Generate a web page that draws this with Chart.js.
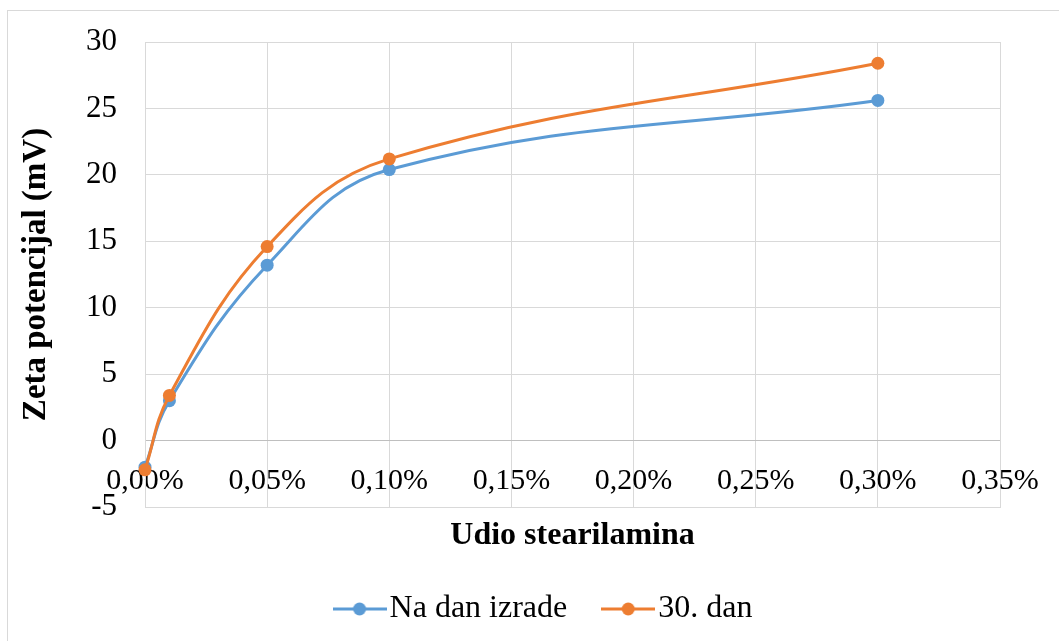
<!DOCTYPE html>
<html>
<head>
<meta charset="utf-8">
<script src="https://cdn.jsdelivr.net/npm/chart.js@4.4.0/dist/chart.umd.min.js"></script>
<style>
  html, body { margin: 0; padding: 0; background: #fff; overflow: hidden; width: 1059px; height: 641px; }
  #frame { position: absolute; left: 7px; top: 10px; width: 1079px; height: 630px;
           border-left: 1px solid #d9d9d9; border-top: 1px solid #d9d9d9; }
  #chart { display: block; }
</style>
</head>
<body>
<div id="frame"><canvas id="chart" width="1079" height="630"></canvas></div>
<script>
// share of stearylamine (%)
var udio = [0, 0.01, 0.05, 0.10, 0.30];
// zeta potential (mV)
var naDanIzrade = [-2.0, 3.0, 13.2, 20.4, 25.6];
var dan30 = [-2.2, 3.4, 14.6, 21.2, 28.4];

var seriesNames = ["Na dan izrade", "30. dan"];
var seriesColors = ["#5b9bd5", "#ed7d31"];

var serif = "'Liberation Serif', 'Times New Roman', serif";

// legend marker: short line with a dot, like excel
function markerImage(color) {
  var c = document.createElement("canvas");
  c.width = 54;
  c.height = 16;
  var g = c.getContext("2d");
  g.strokeStyle = color;
  g.lineWidth = 3;
  g.beginPath();
  g.moveTo(0, 8);
  g.lineTo(54, 8);
  g.stroke();
  g.fillStyle = color;
  g.beginPath();
  g.arc(27, 8, 6.5, 0, Math.PI * 2);
  g.fill();
  return c;
}

function toPoints(xs, ys) {
  var pts = [];
  for (var i = 0; i < xs.length; i++) {
    pts.push({ x: xs[i], y: ys[i] });
  }
  return pts;
}

var allSeries = [naDanIzrade, dan30];
var datasets = [];
for (var i = 0; i < allSeries.length; i++) {
  datasets.push({
    label: seriesNames[i],
    data: toPoints(udio, allSeries[i]),
    borderColor: seriesColors[i],
    backgroundColor: seriesColors[i],
    borderWidth: 3,
    pointRadius: 6.5,
    pointHoverRadius: 6.5,
    pointBorderWidth: 0,
    tension: 0.4,
    clip: false,
    // later series on top, as in excel
    order: allSeries.length - i,
    yAxisID: "y"
  });
}

new Chart(document.getElementById("chart"), {
  type: "line",
  data: { datasets: datasets },
  options: {
    responsive: false,
    animation: false,
    events: [],
    layout: { padding: { left: 4, right: 1, top: 31, bottom: 6 } },
    scales: {
      x: {
        type: "linear",
        min: 0,
        max: 0.35,
        ticks: {
          stepSize: 0.05,
          mirror: true,
          padding: 8,
          color: "#000",
          font: { family: serif, size: 30 },
          callback: function (v) { return v.toFixed(2).replace(".", ",") + "%"; }
        },
        grid: { color: "#d9d9d9", lineWidth: 1, drawTicks: false },
        border: { color: "#d9d9d9" },
        title: {
          display: true,
          text: "Udio stearilamina",
          color: "#000",
          font: { family: serif, size: 32, weight: "bold" },
          padding: { top: 0, bottom: -9 }
        },
        afterFit: function (s) {
          s.height = 39;
          s.paddingLeft = 0;
          s.paddingRight = 0;
        }
      },
      y: {
        min: -5,
        max: 30,
        ticks: {
          stepSize: 5,
          padding: 28,
          color: "#000",
          font: { family: serif, size: 31 }
        },
        grid: {
          color: function (ctx) { return ctx.tick && ctx.tick.value === 0 ? "#bfbfbf" : "#d9d9d9"; },
          lineWidth: 1,
          drawTicks: false
        },
        border: { color: "#d9d9d9" },
        title: {
          display: true,
          text: "Zeta potencijal (mV)",
          color: "#000",
          font: { family: serif, size: 33, weight: "bold" },
          padding: { top: 5, bottom: 0 }
        },
        afterFit: function (s) {
          s.width = 133;
          s.paddingTop = 0;
          s.paddingBottom = 0;
        }
      },
      // empty space on the right, the excel plot area stops short of the frame
      rightGap: {
        type: "linear",
        position: "right",
        display: true,
        ticks: { display: false },
        grid: { display: false },
        border: { display: false },
        afterFit: function (s) {
          s.width = 86;
          s.paddingTop = 0;
          s.paddingBottom = 0;
        }
      }
    },
    plugins: {
      tooltip: { enabled: false },
      legend: {
        position: "bottom",
        labels: {
          usePointStyle: true,
          pointStyleWidth: 28,
          padding: 47,
          color: "#000",
          font: { family: serif, size: 32 },
          generateLabels: function (chart) {
            return chart.data.datasets.map(function (ds, idx) {
              return {
                text: ds.label,
                pointStyle: markerImage(seriesColors[idx]),
                fillStyle: seriesColors[idx],
                strokeStyle: seriesColors[idx],
                lineWidth: 0,
                datasetIndex: idx,
                fontColor: "#000"
              };
            });
          }
        }
      }
    }
  }
});
</script>
</body>
</html>
